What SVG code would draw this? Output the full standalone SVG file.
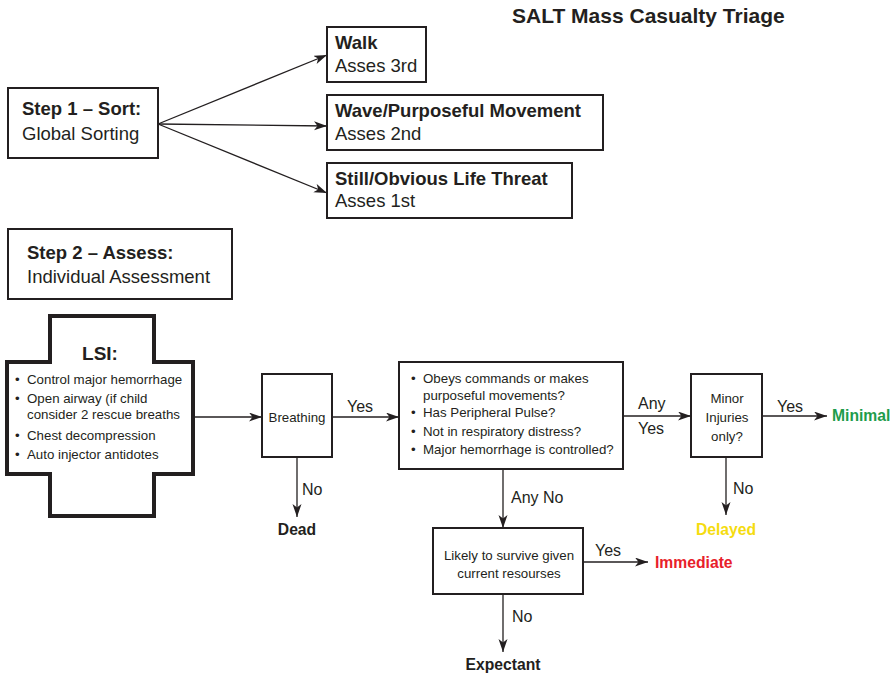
<svg xmlns="http://www.w3.org/2000/svg" width="896" height="674" viewBox="0 0 896 674">
<style>
text{font-family:"Liberation Sans",Arial,sans-serif;fill:#231f20}
.b{font-weight:bold}
.big{font-size:18.5px}
.sm{font-size:13.3px}
.lbl{font-size:16px}
.out{font-size:15.7px;font-weight:bold}
.box{fill:#fff;stroke:#231f20;stroke-width:2}
.con line{stroke:#231f20;stroke-width:1.3;fill:none}
.ar{marker-end:url(#ah)}
</style>
<defs>
<marker id="ah" markerUnits="userSpaceOnUse" markerWidth="14" markerHeight="10" refX="13" refY="4.5" orient="auto">
<path d="M0,0 L13,4.5 L0,9 L3.5,4.5 Z" fill="#231f20"/>
</marker>
</defs>
<rect width="896" height="674" fill="#fff"/>
<text id="title" x="512" y="23" class="b" font-size="21">SALT Mass Casualty Triage</text>

<g class="con">
<line class="ar" x1="158" y1="124" x2="327" y2="55"/>
<line class="ar" x1="158" y1="124" x2="327" y2="126"/>
<line class="ar" x1="158" y1="124" x2="327" y2="193"/>
<line class="ar" x1="193" y1="417" x2="262" y2="417"/>
<line class="ar" x1="332" y1="417" x2="399" y2="417"/>
<line class="ar" x1="297" y1="457" x2="297" y2="517"/>
<line class="ar" x1="623" y1="416" x2="691" y2="416"/>
<line class="ar" x1="762" y1="416" x2="827" y2="416"/>
<line class="ar" x1="726" y1="457" x2="726" y2="515"/>
<line class="ar" x1="503" y1="469" x2="503" y2="528"/>
<line class="ar" x1="583" y1="562" x2="648" y2="562"/>
<line class="ar" x1="503" y1="594" x2="503" y2="652"/>
<text x="347" y="412" class="lbl">Yes</text>
<text x="302" y="495" class="lbl">No</text>
<text x="638" y="409" class="lbl">Any</text>
<text x="638" y="434" class="lbl">Yes</text>
<text x="777" y="412" class="lbl">Yes</text>
<text x="733" y="494" class="lbl">No</text>
<text x="511" y="503" class="lbl">Any No</text>
<text x="595" y="556" class="lbl">Yes</text>
<text x="512" y="622" class="lbl">No</text>
</g>

<g id="step1">
<rect class="box" x="8" y="88" width="150" height="70"/>
<text x="22" y="115" class="big b">Step 1 – Sort:</text>
<text x="22" y="140" class="big">Global Sorting</text>
</g>
<g id="walk">
<rect class="box" x="327" y="27" width="99" height="55"/>
<text x="335" y="49" class="big b">Walk</text>
<text x="335" y="72" class="big">Asses 3rd</text>
</g>
<g id="wave">
<rect class="box" x="327" y="95" width="276" height="55"/>
<text x="335" y="117" class="big b">Wave/Purposeful Movement</text>
<text x="335" y="140" class="big">Asses 2nd</text>
</g>
<g id="still">
<rect class="box" x="327" y="163" width="245" height="55"/>
<text x="335" y="185" class="big b">Still/Obvious Life Threat</text>
<text x="335" y="207" class="big">Asses 1st</text>
</g>
<g id="step2">
<rect class="box" x="8" y="229" width="224" height="70"/>
<text x="27" y="259" class="big b">Step 2 – Assess:</text>
<text x="27" y="283" class="big">Individual Assessment</text>
</g>
<g id="lsi">
<path d="M50,316 H154 V362 H193 V474 H154 V516 H50 V474 H7 V362 H50 Z" fill="#fff" stroke="#231f20" stroke-width="4"/>
<text x="100" y="360" class="b" font-size="19" text-anchor="middle">LSI:</text>
<g class="sm">
<text x="15" y="384">•</text><text x="27" y="384">Control major hemorrhage</text>
<text x="15" y="403">•</text><text x="27" y="403">Open airway (if child</text>
<text x="27" y="419">consider 2 rescue breaths</text>
<text x="15" y="440">•</text><text x="27" y="440">Chest decompression</text>
<text x="15" y="459">•</text><text x="27" y="459">Auto injector antidotes</text>
</g>
</g>
<g id="breathing">
<rect class="box" x="262" y="374" width="70" height="83"/>
<text x="297" y="422" class="sm" text-anchor="middle">Breathing</text>
</g>
<g id="questions">
<rect class="box" x="399" y="362" width="224" height="107"/>
<g class="sm">
<text x="411" y="383">•</text><text x="423" y="383">Obeys commands or makes</text>
<text x="423" y="400">purposeful movements?</text>
<text x="411" y="417">•</text><text x="423" y="417">Has Peripheral Pulse?</text>
<text x="411" y="436">•</text><text x="423" y="436">Not in respiratory distress?</text>
<text x="411" y="454">•</text><text x="423" y="454">Major hemorrhage is controlled?</text>
</g>
</g>
<g id="minor">
<rect class="box" x="691" y="374" width="71" height="83"/>
<g class="sm" text-anchor="middle">
<text x="727" y="403">Minor</text>
<text x="727" y="422">Injuries</text>
<text x="727" y="441">only?</text>
</g>
</g>
<g id="likely">
<rect class="box" x="433" y="528" width="150" height="66"/>
<g class="sm" text-anchor="middle">
<text x="509" y="560">Likely to survive given</text>
<text x="509" y="578">current resourses</text>
</g>
</g>
<g id="dead"><text x="297" y="535" class="out" text-anchor="middle">Dead</text></g>
<g id="minimal"><text x="832" y="421" class="out" style="fill:#1e9c4b">Minimal</text></g>
<g id="delayed"><text x="726" y="535" class="out" text-anchor="middle" style="fill:#f5dc10">Delayed</text></g>
<g id="immediate"><text x="655" y="568" class="out" style="fill:#e8202a">Immediate</text></g>
<g id="expectant"><text x="503" y="670" class="out" text-anchor="middle">Expectant</text></g>
</svg>
